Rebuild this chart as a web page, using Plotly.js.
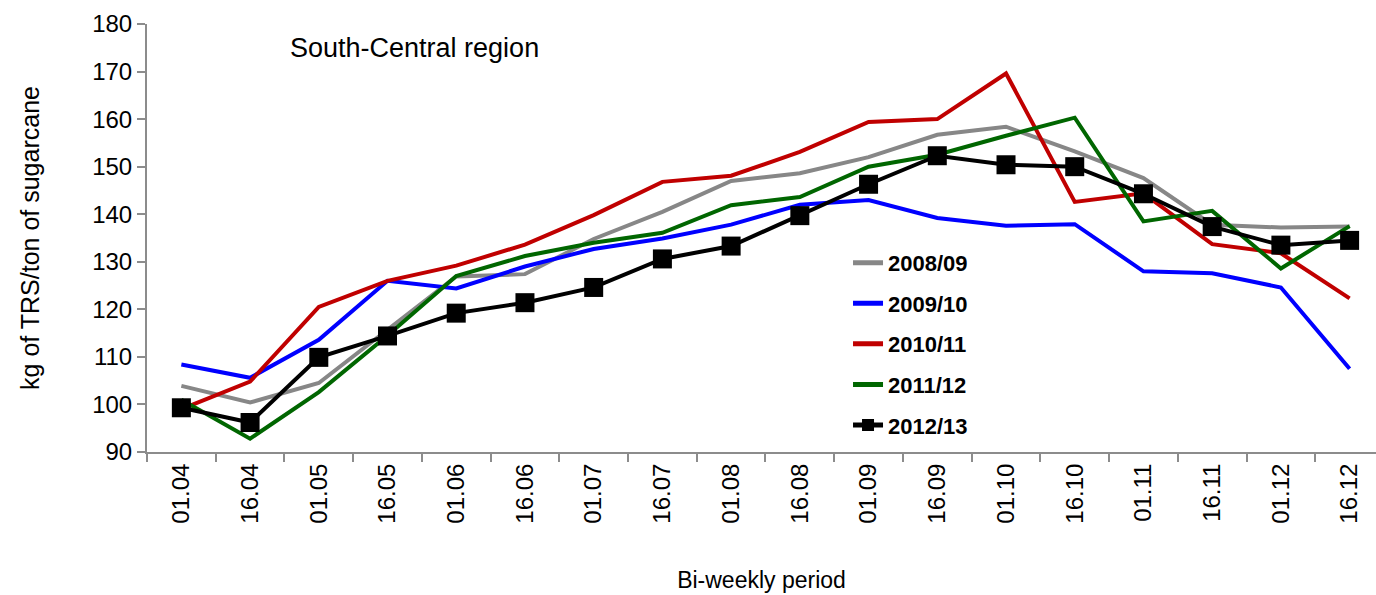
<!DOCTYPE html>
<html>
<head>
<meta charset="utf-8">
<script src="https://cdn.plot.ly/plotly-3.0.1.min.js"></script>
<style>
html,body{margin:0;padding:0;background:#fff;overflow:hidden;}
#chart{width:1376px;height:595px;}
</style>
</head>
<body>
<div id="chart"></div>
<script>
const categories = ['01.04','16.04','01.05','16.05','01.06','16.06','01.07','16.07','01.08','16.08','01.09','16.09','01.10','16.10','01.11','16.11','01.12','16.12'];
const seriesNames = ['2008/09','2009/10','2010/11','2011/12','2012/13'];
const s2008 = [103.9,100.4,104.5,115.7,126.9,127.4,134.8,140.5,147.0,148.6,152.0,156.7,158.4,153.2,147.6,137.8,137.2,137.4];
const s2009 = [108.4,105.6,113.6,126.0,124.4,129.0,132.7,134.9,137.8,142.0,143.0,139.2,137.6,137.9,128.0,127.6,124.6,107.5];
const s2010 = [99.0,104.8,120.5,126.0,129.2,133.6,139.8,146.8,148.1,153.1,159.4,160.0,169.6,142.6,144.4,133.7,131.8,122.3];
const s2011 = [101.0,92.8,102.6,114.5,127.0,131.2,134.0,136.1,141.9,143.6,150.0,152.5,156.5,160.3,138.5,140.7,128.6,137.5];
const s2012 = [99.3,96.2,109.9,114.4,119.2,121.4,124.6,130.6,133.3,139.7,146.3,152.3,150.4,150.0,144.3,137.4,133.5,134.5];
const yTicks = [90,100,110,120,130,140,150,160,170,180];

const colors = ['#878787','#0000ff','#c00000','#006600','#000000'];
const allSeries = [s2008,s2009,s2010,s2011,s2012];

const FONT = 'Liberation Sans, Arial, sans-serif';

const traces = allSeries.map((vals,i)=>{
  const t = {
    type:'scatter',
    mode: i===4 ? 'lines+markers' : 'lines',
    x: categories,
    y: vals,
    name: seriesNames[i],
    legendgroup: 'g'+i,
    line:{color:colors[i], width:4},
    hoverinfo:'skip'
  };
  if (i===4) t.marker = {symbol:'square', size:19, color:'#000'};
  return t;
});

const layout = {
  width:1376, height:595,
  margin:{l:147, r:0, t:24, b:143},
  paper_bgcolor:'#fff', plot_bgcolor:'#fff',
  font:{family:FONT, color:'#000'},
  showlegend:true,
  legend:{
    x:0.5704, y:0.491, xanchor:'left', yanchor:'top',
    bgcolor:'rgba(0,0,0,0)',
    font:{family:FONT, size:22, color:'#000', weight:'bold'},
    traceorder:'grouped', tracegroupgap:9,
    itemsizing:'constant'
  },
  xaxis:{
    type:'category',
    range:[-0.5, 17.384],
    tickvals: categories,
    ticktext: categories,
    tickangle:-90,
    tickfont:{family:FONT, size:24, color:'#000'},
    ticks:'outside', tickson:'boundaries', ticklen:8, tickcolor:'#8c8c8c', tickwidth:2,
    showline:true, linecolor:'#8c8c8c', linewidth:2,
    showgrid:false, zeroline:false,
    title:{text:'Bi-weekly period', font:{family:FONT, size:23, color:'#000'}, standoff:49}
  },
  yaxis:{
    range:[90,180],
    tickvals:yTicks,
    tickfont:{family:FONT, size:24, color:'#000'},
    ticks:'outside', ticklen:8, tickcolor:'#8c8c8c', tickwidth:2,
    showline:true, linecolor:'#8c8c8c', linewidth:2,
    showgrid:false, zeroline:false,
    title:{text:'kg of TRS/ton of sugarcane', font:{family:FONT, size:25, color:'#000'}, standoff:45}
  },
  annotations:[{
    text:'South-Central region', xref:'paper', yref:'paper',
    x:0.1147, y:0.944, xanchor:'left', yanchor:'middle', showarrow:false,
    font:{family:FONT, size:27, color:'#000'}
  }]
};

Plotly.newPlot('chart', traces, layout, {displayModeBar:false, staticPlot:true});
</script>
</body>
</html>
